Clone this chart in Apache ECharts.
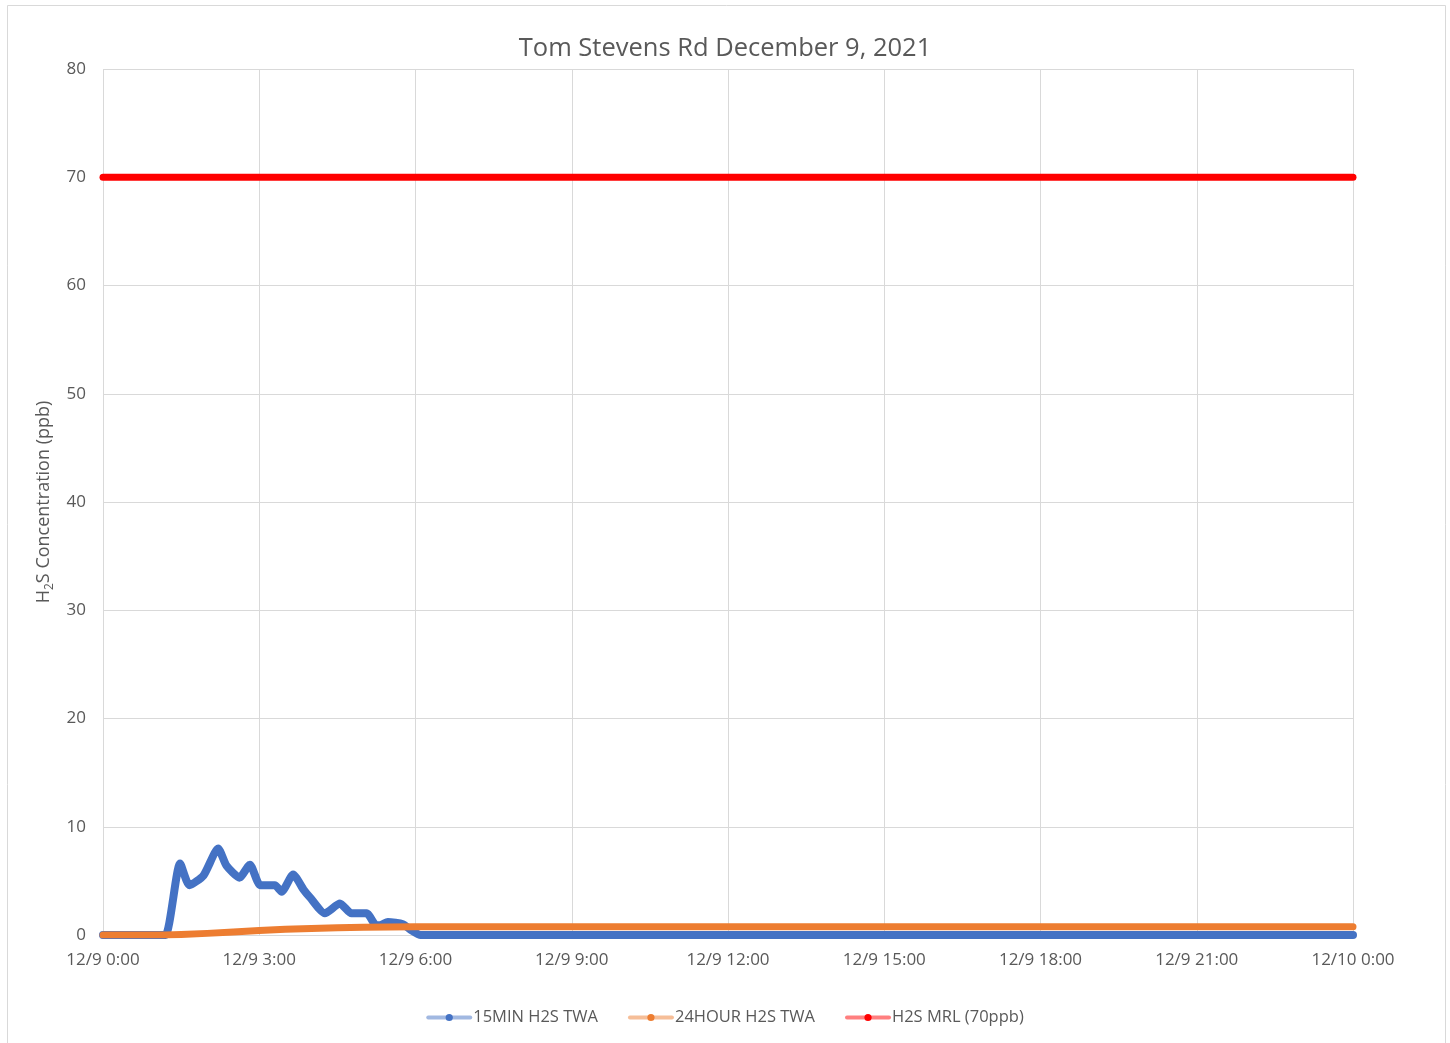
<!DOCTYPE html>
<html>
<head>
<meta charset="utf-8">
<title>Tom Stevens Rd December 9, 2021</title>
<script src="https://cdn.jsdelivr.net/npm/echarts@6/dist/echarts.min.js"></script>
<style>
    html, body {margin: 0; padding: 0; background: #fff;}
    #main {width: 1450px; height: 1043px;}
</style>
</head>
<body>
<div id="main"></div>
<script>
// 时间用小时表示 (0 = 12/9 0:00, 24 = 12/10 0:00)
var tickLabels = ['12/9 0:00', '12/9 3:00', '12/9 6:00', '12/9 9:00', '12/9 12:00',
    '12/9 15:00', '12/9 18:00', '12/9 21:00', '12/10 0:00'];

// 15MIN H2S TWA
var minTimes = [0, 0.5, 1.0, 1.2, 1.48, 1.66, 1.93, 2.21, 2.37, 2.62, 2.82, 3.02, 3.3, 3.43,
    3.65, 3.85, 3.97, 4.26, 4.55, 4.77, 5.06, 5.22, 5.32, 5.47, 5.76, 5.9, 6.1, 12, 18, 24];
var minValues = [0, 0, 0, 0, 6.6, 4.6, 5.5, 8.0, 6.4, 5.3, 6.5, 4.6, 4.6, 4.0,
    5.6, 4.2, 3.5, 2.0, 2.9, 2.0, 2.0, 1.0, 0.9, 1.2, 1.0, 0.5, 0, 0, 0, 0];

// 24HOUR H2S TWA
var dayTimes = [0, 1.0, 1.2, 1.5, 2.0, 2.5, 3.0, 3.5, 4.0, 4.5, 5.0, 5.5, 6.0, 12, 18, 24];
var dayValues = [0, 0, 0, 0.04, 0.15, 0.28, 0.41, 0.52, 0.61, 0.67, 0.72, 0.75, 0.77, 0.77, 0.77, 0.77];

// H2S MRL (70ppb)
var mrlTimes = [0, 24];
var mrlValues = [70, 70];

function pairs(times, values) {
    var out = [];
    for (var i = 0; i < times.length; i++) {
        out.push([times[i], values[i]]);
    }
    return out;
}

var chart = echarts.init(document.getElementById('main'));
var fontFamily = '"Open Sans", "Noto Sans", sans-serif';
var gridColor = '#d9d9d9';
var textColor = '#595959';

chart.setOption(option = {
    animation: false,
    backgroundColor: '#fff',
    textStyle: {
        fontFamily: fontFamily,
        color: textColor
    },
    title: {
        text: 'Tom Stevens Rd December 9, 2021',
        left: 'center',
        top: 31,
        textStyle: {
            color: textColor,
            fontFamily: fontFamily,
            fontWeight: 'normal',
            fontSize: 25.5
        }
    },
    graphic: [{
        type: 'rect',
        shape: {x: 7.5, y: 5.5, width: 1438, height: 1060},
        style: {fill: 'none', stroke: gridColor, lineWidth: 1},
        silent: true
    }],
    legend: {
        bottom: 12,
        left: 'center',
        itemWidth: 42,
        itemHeight: 9,
        itemGap: 30,
        textStyle: {
            color: textColor,
            fontFamily: fontFamily,
            fontSize: 16.5,
            padding: [0, 0, 0, -2]
        },
        lineStyle: {
            width: 4,
            opacity: 0.5
        },
        data: ['15MIN H2S TWA', '24HOUR H2S TWA', 'H2S MRL (70ppb)']
    },
    grid: {
        left: 103,
        right: 97,
        top: 69,
        bottom: 108
    },
    xAxis: [{
        type: 'value',
        min: 0,
        max: 24,
        interval: 3,
        axisLine: {show: true, lineStyle: {color: gridColor}},
        axisTick: {show: false},
        splitLine: {show: true, lineStyle: {color: gridColor}},
        axisLabel: {
            color: textColor,
            fontSize: 17,
            margin: 17,
            formatter: function (v) {
                return tickLabels[Math.round(v / 3)];
            }
        }
    }],
    yAxis: [{
        type: 'value',
        min: 0,
        max: 80,
        interval: 10,
        name: 'H{sub|2}S Concentration (ppb)',
        nameLocation: 'middle',
        nameGap: 42,
        nameTextStyle: {
            color: textColor,
            fontSize: 18,
            rich: {
                sub: {
                    fontSize: 12,
                    color: textColor,
                    fontFamily: fontFamily,
                    verticalAlign: 'bottom',
                    lineHeight: 24
                }
            }
        },
        axisLine: {show: false},
        axisTick: {show: false},
        splitLine: {show: true, lineStyle: {color: gridColor}},
        axisLabel: {
            color: textColor,
            fontSize: 17,
            margin: 17
        }
    }],
    series: [{
        name: '15MIN H2S TWA',
        type: 'line',
        data: pairs(minTimes, minValues),
        symbol: 'circle',
        showSymbol: false,
        smooth: 0.2,
        lineStyle: {color: '#4472c4', width: 8, cap: 'round', join: 'round'},
        itemStyle: {color: '#4472c4'},
        z: 2
    }, {
        name: '24HOUR H2S TWA',
        type: 'line',
        data: pairs(dayTimes, dayValues),
        symbol: 'circle',
        showSymbol: false,
        lineStyle: {color: '#ed7d31', width: 7, cap: 'round', join: 'round'},
        itemStyle: {color: '#ed7d31'},
        z: 3
    }, {
        name: 'H2S MRL (70ppb)',
        type: 'line',
        data: pairs(mrlTimes, mrlValues),
        symbol: 'circle',
        showSymbol: false,
        lineStyle: {color: '#ff0000', width: 7, cap: 'round'},
        itemStyle: {color: '#ff0000'},
        z: 4
    }]
});
</script>
</body>
</html>
